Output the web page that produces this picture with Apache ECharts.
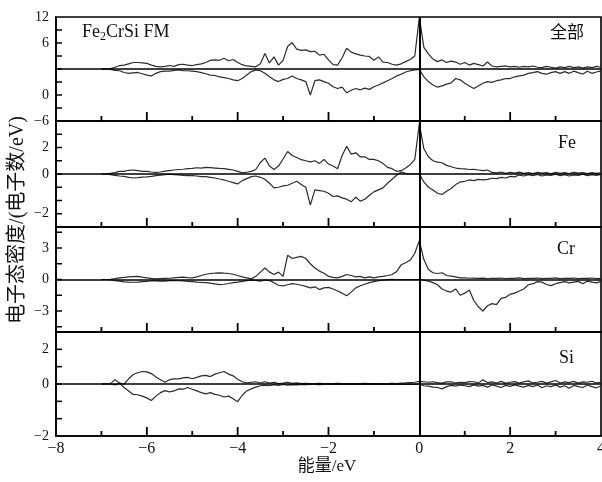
<!DOCTYPE html>
<html><head><meta charset="utf-8">
<script src="https://cdn.jsdelivr.net/npm/echarts@6/dist/echarts.min.js"></script>
<style>html,body{margin:0;padding:0;background:#fff}#c{width:602px;height:482px}</style>
</head><body><div id="c"></div>
<script>
// energy grid (eV), -7.0 .. 4.0 step 0.1
const energy = [];
for (let i = 0; i <= 110; i++) energy.push(+(-7 + i * 0.1).toFixed(1));

// 全部 (total) — spin up / spin down, in plotted axis units
const totalUp = [0,0,0.1,0.4,0.8,0.9,1.2,1.5,1.5,1.4, 1.3,0.9,0.6,0.5,0.6,0.8,0.6,1.0,1.1,0.9,
 0.8,1.0,1.2,1.5,2.0,2.1,2.0,2.5,1.9,2.2, 1.5,1.0,0.7,0.6,0.5,1.2,3.6,1.4,2.8,0.9,
 2.0,5.2,6.1,4.6,4.3,4.4,4.0,4.1,3.2,3.4, 2.1,1.0,0.9,2.6,4.8,3.9,3.5,3.2,3.0,2.9,
 2.0,2.8,1.6,1.5,1.1,0.9,1.2,1.7,2.2,3.0, 11.9,5.0,3.5,2.3,1.7,2.1,1.5,1.8,1.6,1.1,
 1.5,0.9,1.3,1.0,0.7,1.6,0.7,0.5,0.6,0.7, 0.5,0.6,0.4,0.6,0.5,0.7,0.4,0.3,0.6,0.4,
 0.2,0.5,0.3,0.6,0.3,0.5,0.2,0.5,0.3,0.6, 0.4];
const totalDown = [0,0,-0.1,-0.3,-0.4,-0.8,-1.0,-0.9,-0.8,-1.1, -1.4,-1.6,-1.0,-0.6,-0.5,-0.5,-0.3,-0.2,-0.4,-0.4,
 -0.5,-0.6,-0.85,-1.1,-1.4,-1.5,-1.8,-2.0,-2.2,-2.5, -2.7,-2.2,-1.4,-0.6,-0.2,-0.4,-1.0,-1.8,-2.5,-2.9,
 -2.4,-2.2,-1.6,-2.2,-2.5,-2.9,-6.0,-2.7,-2.5,-2.9, -3.3,-4.1,-4.5,-4.2,-5.5,-4.9,-4.5,-4.8,-4.4,-4.7,
 -4.1,-3.7,-3.2,-2.7,-2.2,-1.6,-1.2,-0.7,-0.4,-0.2, -0.1,-1.8,-2.9,-3.7,-4.2,-3.9,-3.5,-3.2,-2.2,-2.5,
 -3.3,-3.9,-4.5,-3.9,-3.3,-2.9,-3.1,-2.7,-2.5,-2.2, -2.2,-1.8,-1.6,-1.4,-1.0,-0.85,-0.6,-1.0,-1.2,-0.85,
 -0.6,-1.0,-0.6,-1.0,-0.5,-0.85,-1.15,-0.5,-1.0,-0.7, -0.45];

// Fe
const feUp = [0,0,0.05,0.1,0.2,0.2,0.28,0.3,0.25,0.2, 0.2,0.15,0.12,0.15,0.22,0.26,0.3,0.34,0.36,0.4,
 0.42,0.47,0.45,0.5,0.48,0.45,0.42,0.4,0.35,0.3, 0.2,0.08,0.13,0.2,0.34,0.87,1.2,0.6,0.34,0.6,
 1.13,1.7,1.4,1.25,1.08,1.0,0.92,1.0,0.8,1.1, 0.75,0.6,0.4,1.4,2.1,1.5,1.6,1.3,1.3,1.1,
 1.1,1.0,0.8,0.5,0.4,0.2,0.25,0.45,0.7,1.1, 3.8,1.9,1.3,1.0,0.9,0.85,0.65,0.55,0.45,0.4,
 0.38,0.34,0.35,0.3,0.25,0.3,0.12,0.08,0.15,0.05, 0.12,0.06,0.14,0.05,0.1,0.03,0.12,0.06,0.1,0.02,
 0.12,0.05,0.1,0.04,0.12,0.06,0.1,0.03,0.1,0.05, 0.08];
const feDown = [0,0,-0.05,-0.1,-0.15,-0.18,-0.25,-0.3,-0.28,-0.24, -0.22,-0.18,-0.12,-0.08,-0.05,-0.02,-0.05,-0.06,-0.1,-0.12,
 -0.13,-0.15,-0.2,-0.2,-0.25,-0.3,-0.38,-0.45,-0.55,-0.65, -0.75,-0.5,-0.35,-0.2,-0.15,-0.25,-0.4,-0.7,-1.05,-1.0,
 -0.9,-0.85,-0.7,-0.55,-0.8,-1.0,-2.35,-1.2,-1.25,-1.3, -1.45,-1.7,-1.65,-1.8,-1.9,-2.1,-1.75,-2.05,-1.9,-1.6,
 -1.35,-1.2,-1.05,-0.7,-0.4,-0.1,0.15,0.05,0,0, 0,-0.6,-1.0,-1.2,-1.45,-1.55,-1.3,-1.1,-0.8,-0.6,
 -0.55,-0.45,-0.5,-0.4,-0.45,-0.4,-0.32,-0.35,-0.25,-0.3, -0.18,-0.22,-0.08,-0.15,-0.05,-0.12,-0.04,-0.15,-0.06,-0.1,
 -0.02,-0.12,-0.05,-0.15,-0.06,-0.1,-0.02,-0.12,-0.05,-0.1, -0.04];

// Cr
const crUp = [0,0,0.02,0.08,0.16,0.2,0.25,0.28,0.3,0.22, 0.16,0.1,0.06,0.08,0.1,0.12,0.16,0.2,0.22,0.18,
 0.16,0.25,0.38,0.5,0.57,0.6,0.64,0.6,0.57,0.5, 0.38,0.25,0.16,0.06,0.3,0.7,1.1,0.7,0.48,0.7,
 0.3,2.3,2.0,2.1,2.2,2.0,1.5,1.1,0.8,0.6, 0.3,0.2,0.16,0.3,0.48,0.38,0.25,0.3,0.16,0.25,
 0.16,0.25,0.3,0.38,0.48,0.75,1.4,1.6,1.85,2.5, 3.7,1.9,0.96,0.64,0.57,0.64,0.38,0.32,0.25,0.16,
 0.16,0.12,0.14,0.1,0.13,0.08,0.12,0.1,0.14,0.08, 0.12,0.1,0.15,0.08,0.12,0.1,0.14,0.08,0.12,0.1,
 0.15,0.08,0.12,0.1,0.14,0.08,0.12,0.1,0.14,0.08, 0.1];
const crDown = [0,0,-0.02,-0.1,-0.16,-0.22,-0.25,-0.26,-0.25,-0.2, -0.18,-0.12,-0.13,-0.16,-0.16,-0.1,-0.1,-0.12,-0.13,-0.18,
 -0.2,-0.25,-0.28,-0.3,-0.35,-0.42,-0.48,-0.45,-0.38,-0.3, -0.25,-0.18,-0.1,-0.05,-0.08,-0.15,-0.05,-0.1,-0.3,-0.55,
 -0.6,-0.5,-0.4,-0.45,-0.55,-0.65,-0.8,-0.7,-0.96,-0.8, -0.75,-0.9,-1.1,-1.3,-1.55,-1.2,-0.8,-0.6,-0.45,-0.3,
 -0.2,-0.12,-0.06,-0.02,0.02,0,0,0,0,0, 0,-0.06,-0.15,-0.3,-0.5,-0.9,-1.1,-1.2,-0.9,-1.5,
 -1.3,-1.0,-2.0,-2.6,-3.0,-2.5,-2.3,-2.4,-1.8,-1.7, -1.4,-1.3,-1.1,-0.9,-0.5,-0.4,-0.2,-0.25,-0.48,-0.58,
 -0.4,-0.3,-0.2,-0.32,-0.25,-0.18,-0.4,-0.15,-0.25,-0.32, -0.18];

// Si
const siUp = [0,0,0.02,0.25,0.05,0,0.3,0.55,0.65,0.72, 0.7,0.6,0.4,0.25,0.1,0.25,0.3,0.3,0.35,0.38,
 0.3,0.38,0.47,0.5,0.43,0.57,0.65,0.72,0.57,0.47, 0.28,0.13,0.06,0.1,0.13,0.06,0.13,0.05,0.1,0.02,
 0.05,0.1,0.04,0.06,0.02,0.04,0.03,0.02,0.04,0.02, 0.03,0.02,0.04,0.02,0.03,0.02,0.03,0.02,0.04,0.02,
 0.03,0.02,0.03,0.02,0.04,0.03,0.05,0.06,0.08,0.1, 0.15,0.13,0.1,0.13,0.08,0.05,0.12,0.13,0.06,0.1,
 0.08,0.14,0.13,0.05,0.25,0.08,0.12,0.06,0.15,0.05, 0.1,0.14,0.05,0.12,0.18,0.06,0.1,0.15,0.05,0.12,
 0.2,0.06,0.12,0.08,0.15,0.05,0.12,0.1,0.16,0.06, 0.1];
const siDown = [0,0,0,-0.05,0.05,-0.2,-0.4,-0.6,-0.62,-0.7, -0.8,-0.95,-0.7,-0.5,-0.38,-0.45,-0.4,-0.28,-0.3,-0.2,
 -0.3,-0.4,-0.5,-0.57,-0.5,-0.6,-0.65,-0.75,-0.7,-0.85, -1.02,-0.65,-0.4,-0.28,-0.18,-0.1,-0.06,-0.1,-0.04,-0.08,
 -0.03,-0.06,-0.04,-0.05,-0.02,-0.04,-0.03,-0.02,-0.04,-0.02, -0.03,-0.02,-0.03,-0.02,-0.03,-0.02,-0.03,-0.02,-0.02,-0.02,
 -0.02,-0.02,-0.02,-0.02,-0.02,-0.02,-0.02,-0.02,-0.02,-0.02, 0,-0.1,-0.12,-0.18,-0.2,-0.28,-0.15,-0.08,-0.12,-0.06,
 -0.1,-0.15,-0.05,-0.12,-0.08,-0.18,-0.06,-0.12,-0.2,-0.08, -0.14,-0.05,-0.12,-0.18,-0.08,-0.15,-0.06,-0.22,-0.1,-0.15,
 -0.05,-0.18,-0.1,-0.25,-0.08,-0.15,-0.2,-0.06,-0.15,-0.22, -0.1];

const xTickLabels = [-8,-6,-4,-2,0,2,4];
const xMajorTicks = [-6,-4,-2,2];
const xMinorTicks = [-7,-5,-3,-1,1,3];
const panelNames = ['全部','Fe','Cr','Si'];
// y-axis extents, tick positions and the tick labels as printed in the figure
const yExtent = [12, 4, 5, 3];
const yTickPos = [
  [-9,-6,-3,0,3,6,9],
  [-3,-2,-1,0,1,2,3],
  [-4.5,-3,-1.5,0,1.5,3,4.5],
  [-2,-1,0,1,2]
];
const yLabelPos = [[12,6,-6,-12],[2,0,-3],[3,0,-3],[2,0,-3]];
const yLabelText = [['12','6','0','−6'],['2','0','−2'],['3','0','−3'],['2','0','−2']];

const seriesUp = [totalUp, feUp, crUp, siUp];
const seriesDown = [totalDown, feDown, crDown, siDown];

const tops = [17, 121, 227, 332];
const heights = [104, 106, 105, 104];
const serif = 'Liberation Serif, Times New Roman, serif';
const ink = '#111';
const curveColor = '#2b2b2b';
const axisLineStyle = {color: '#000', width: 1.6};

function xTickSeries(i, values, len) {
  return {type: 'custom', coordinateSystem: 'cartesian2d', xAxisIndex: i, yAxisIndex: i,
    silent: true, clip: false, z: 10, encode: {x: 0, y: 1},
    data: values.map(v => [v, 0]),
    renderItem: (params, api) => {
      const cs = params.coordSys;
      const px = api.coord([api.value(0), 0])[0];
      const yb = cs.y + cs.height;
      return {type: 'line', z2: 100, shape: {x1: px, y1: yb, x2: px, y2: yb - len},
        style: {stroke: '#000', lineWidth: 1.8}};
    }};
}
function yTickSeries(i, values, len) {
  return {type: 'custom', coordinateSystem: 'cartesian2d', xAxisIndex: i, yAxisIndex: i,
    silent: true, clip: false, z: 10, encode: {x: 0, y: 1},
    data: values.map(v => [0, v]),
    renderItem: (params, api) => {
      const cs = params.coordSys;
      const py = api.coord([0, api.value(1)])[1];
      return {type: 'line', z2: 100, shape: {x1: cs.x, y1: py, x2: cs.x + len, y2: py},
        style: {stroke: '#000', lineWidth: 1.5}};
    }};
}

const grids = [], xAxes = [], yAxes = [], series = [];
for (let i = 0; i < 4; i++) {
  grids.push({left: 56, width: 545, top: tops[i], height: heights[i],
    containLabel: false, outerBoundsMode: 'none',
    show: true, borderColor: '#000', borderWidth: 1.6, backgroundColor: 'transparent'});
  xAxes.push({gridIndex: i, type: 'value', min: -8, max: 4, interval: 2, position: 'bottom',
    axisLine: {show: true, onZero: false, lineStyle: axisLineStyle},
    axisTick: {show: false},
    splitLine: {show: false},
    axisLabel: {show: i === 3, color: ink, fontFamily: serif, fontSize: 16, margin: 5,
      customValues: xTickLabels,
      formatter: v => (v < 0 ? '−' + Math.abs(v) : String(v))}
  });
  const lp = yLabelPos[i], lt = yLabelText[i];
  yAxes.push({gridIndex: i, type: 'value', min: -yExtent[i], max: yExtent[i], position: 'left',
    axisLine: {show: true, onZero: false, lineStyle: axisLineStyle}, splitLine: {show: false},
    axisTick: {show: false},
    axisLabel: {show: true, color: ink, fontFamily: serif, fontSize: 14, margin: 7,
      customValues: lp,
      formatter: v => { const k = lp.indexOf(v); return k >= 0 ? lt[k] : ''; }}
  });
  const mk = (arr) => energy.map((e, j) => [e, arr[j]]);
  series.push({type: 'line', xAxisIndex: i, yAxisIndex: i, data: mk(seriesUp[i]),
    showSymbol: false, symbol: 'none', lineStyle: {color: curveColor, width: 1.2}, z: 3,
    markLine: {silent: true, symbol: ['none','none'], label: {show: false}, animation: false,
      data: [
        {yAxis: 0, lineStyle: {color: '#000', width: 1.6, type: 'solid'}},
        {xAxis: 0, lineStyle: {color: '#000', width: 2, type: 'solid'}}
      ]}
  });
  series.push({type: 'line', xAxisIndex: i, yAxisIndex: i, data: mk(seriesDown[i]),
    showSymbol: false, symbol: 'none', lineStyle: {color: curveColor, width: 1.2}, z: 3});
  series.push(xTickSeries(i, xMajorTicks, 9));
  series.push(xTickSeries(i, xMinorTicks, 5));
  series.push(yTickSeries(i, yTickPos[i], 6));
}

const chart = echarts.init(document.getElementById('c'), null, {renderer: 'canvas'});
chart.setOption({
  animation: false,
  backgroundColor: '#fff',
  grid: grids, xAxis: xAxes, yAxis: yAxes, series: series,
  graphic: [
    {type: 'text', left: 82, top: 21, style: {
      text: '{a|Fe}{s|2}{a|CrSi FM}',
      rich: {a: {fontFamily: serif, fontSize: 18, fill: ink, lineHeight: 22},
             s: {fontFamily: serif, fontSize: 12, fill: ink, lineHeight: 22, padding: [10,0,0,0]}}
    }},
    {type: 'text', right: 18, top: 23, style: {text: panelNames[0], font: '17px "Noto Sans CJK SC"', fill: ink}},
    {type: 'text', left: 558, top: 134, style: {text: panelNames[1], font: '18px ' + serif, fill: ink}},
    {type: 'text', left: 557, top: 240, style: {text: panelNames[2], font: '18px ' + serif, fill: ink}},
    {type: 'text', left: 559, top: 349, style: {text: panelNames[3], font: '18px ' + serif, fill: ink}},
    {type: 'text', x: 18, y: 220, rotation: Math.PI / 2, style: {
      text: '电子态密度/(电子数/eV)', font: '20px "Liberation Serif", "Noto Sans CJK SC"', fill: ink,
      align: 'center', verticalAlign: 'middle'}},
    {type: 'text', x: 327, y: 467, style: {
      text: '能量/eV', font: '17px "Liberation Serif", "Noto Sans CJK SC"', fill: ink,
      align: 'center', verticalAlign: 'middle'}}
  ]
});
</script></body></html>
